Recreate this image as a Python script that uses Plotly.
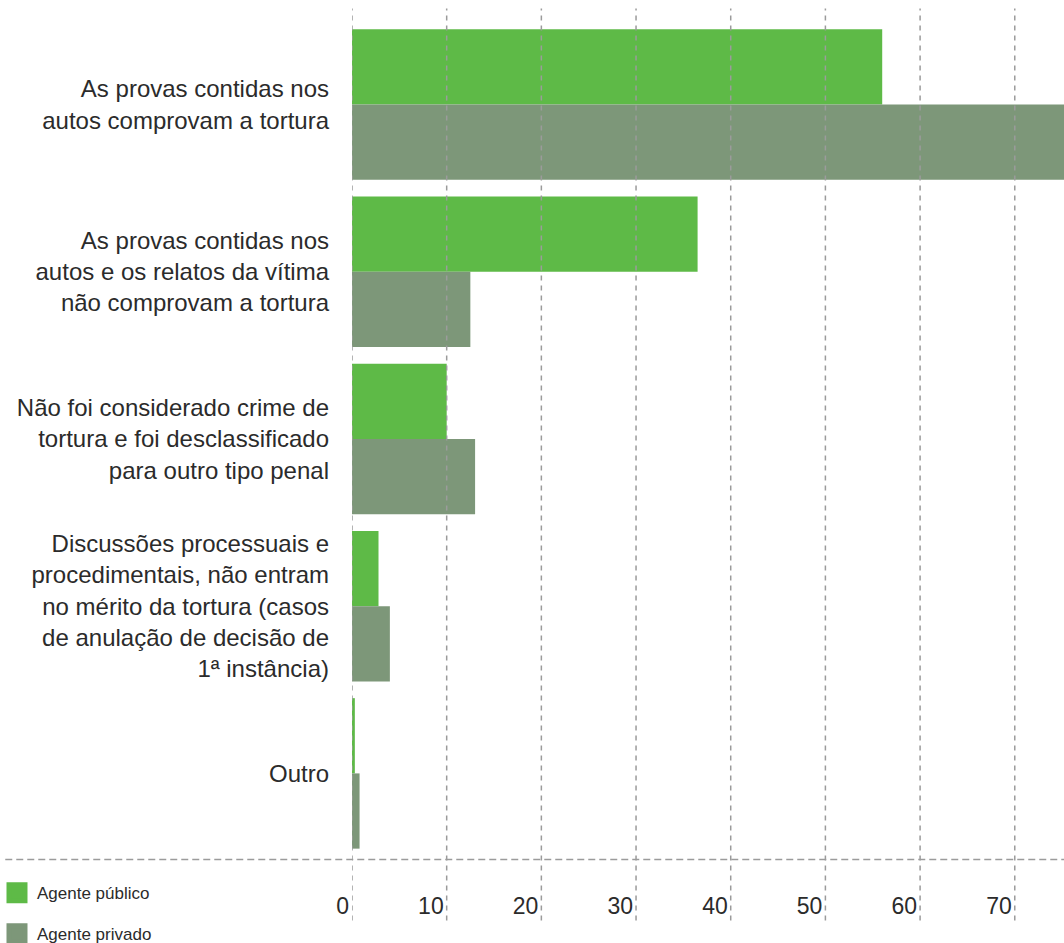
import plotly.graph_objects as go

# categories top to bottom
categories = [
    'As provas contidas nos<br>autos comprovam a tortura',
    'As provas contidas nos<br>autos e os relatos da vítima<br>não comprovam a tortura',
    'Não foi considerado crime de<br>tortura e foi desclassificado<br>para outro tipo penal',
    'Discussões processuais e<br>procedimentais, não entram<br>no mérito da tortura (casos<br>de anulação de decisão de<br>1ª instância)',
    'Outro',
]
agente_publico = [56, 36.5, 10, 2.8, 0.3]
agente_privado = [78, 12.5, 13, 4.0, 0.8]
tick_values = [0, 10, 20, 30, 40, 50, 60, 70]

GREEN = '#5EBA47'
GREY = '#7D9779'
GRID = '#9b9b9b'
TEXT = '#2b2b2b'

fig = go.Figure()
fig.add_trace(go.Bar(
    y=categories, x=agente_publico, orientation='h',
    marker=dict(color=GREEN, line=dict(width=0)),
    name='Agente público', showlegend=False,
))
fig.add_trace(go.Bar(
    y=categories, x=agente_privado, orientation='h',
    marker=dict(color=GREY, line=dict(width=0)),
    name='Agente privado', showlegend=False,
))

# legend entries with bigger square swatches
for name, color in [('Agente público', GREEN), ('Agente privado', GREY)]:
    fig.add_trace(go.Scatter(
        x=[None], y=[None], mode='markers', name=name, legendgroup=name,
        marker=dict(symbol='square', size=16, color=color,
                    line=dict(color=color, width=5)),
    ))

# dashed vertical grid lines, drawn over the bars and past the plot area
for v in tick_values:
    fig.add_shape(type='line', xref='x', yref='paper', x0=v, x1=v,
                  y0=-0.076, y1=1.015, layer='above',
                  line=dict(color=GRID, width=1.5, dash='5px,5px'))
# horizontal dashed base line across the whole width
fig.add_shape(type='line', xref='paper', yref='paper', x0=-0.487, x1=1,
              y0=-0.003, y1=-0.003, layer='above',
              line=dict(color=GRID, width=1.5, dash='7px,4px'))

fig.update_layout(
    width=1064, height=943,
    margin=dict(l=352, r=0, t=21, b=86, autoexpand=False),
    barmode='group', bargap=0.1, bargroupgap=0,
    paper_bgcolor='white', plot_bgcolor='white',
    font=dict(family='Liberation Sans, Arial, sans-serif', color=TEXT),
    showlegend=True,
    legend=dict(
        xref='paper', yref='container', x=-0.4986, y=0.072,
        xanchor='left', yanchor='top',
        font=dict(size=17, color=TEXT), tracegroupgap=16,
        bgcolor='rgba(0,0,0,0)', itemclick=False,
    ),
)
fig.update_xaxes(
    range=[0, 75.2], tickvals=tick_values, showgrid=False, zeroline=False,
    showline=False, ticks='', tickfont=dict(size=23, color=TEXT),
    ticklabelposition='outside left', ticklabelstandoff=33, ticklabelshift=-3,
    fixedrange=True, automargin=False,
)
fig.update_yaxes(
    categoryorder='array', categoryarray=categories, autorange='reversed',
    showgrid=False, zeroline=False, showline=False, ticks='',
    tickfont=dict(size=24, color=TEXT), ticklabelstandoff=22, fixedrange=True,
    automargin=False,
)

# drop the default page margin so the figure sits at the window's corner
fig.write_html('out.html', config={'displayModeBar': False},
               post_script="document.body.style.margin='0';")
